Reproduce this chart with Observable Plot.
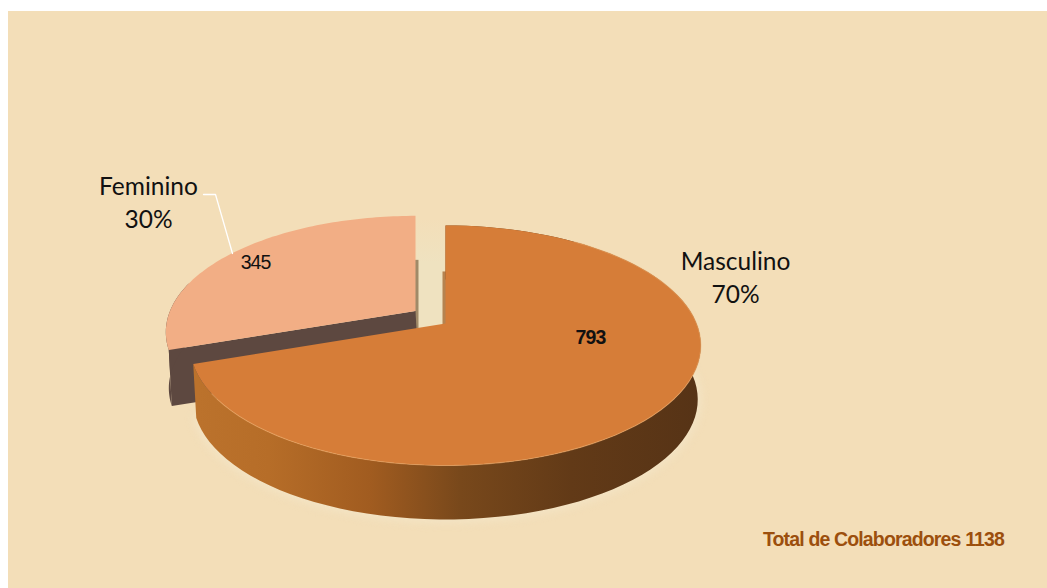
<!DOCTYPE html>
<html>
<head>
<meta charset="utf-8">
<style>
html,body{margin:0;padding:0;background:#fff}svg{display:block}
.tight-total text{letter-spacing:-0.85px}
.tight-value text{letter-spacing:-1px}
.tight-bold text{letter-spacing:-0.8px}
</style>
<script src="https://cdn.jsdelivr.net/npm/d3@7"></script>
<script src="https://cdn.jsdelivr.net/npm/@observablehq/plot@0.6"></script>
</head>
<body>
<script>
const categories = ["Masculino", "Feminino"];
const counts = [793, 345];
const percentLabels = ["70%", "30%"];
const totalLabel = "Total de Colaboradores 1138";

const total = d3.sum(counts);
const W = 1047, H = 588;

// Perspective model of a tilted disc
const cx = 445, cy = 323, R = 251, S = 116, k = -0.183, depth = 54;
const steps = 90;
function project(t, r = 1, dv = 0) {
  const u = r * Math.sin(t), v0 = -r * Math.cos(t), v = v0 + dv;
  const d = 1 + k * v;
  return [cx + (R * u) / (1 + k * v0), cy + (S * v) / d];
}
function sliceEdge(a0, a1, dx, dv, dyShift, xf) {
  const pts = [];
  const apex = project(0, 0, dv);
  pts.push([xf(apex[0]) + dx, apex[1] + dyShift]);
  for (let i = 0; i <= steps; i++) {
    const t = a0 + ((a1 - a0) * i) / steps;
    const p = project(t, 1, dv);
    pts.push([xf(p[0]) + dx, p[1] + dyShift]);
  }
  return pts;
}

const a = (counts[0] / total) * 2 * Math.PI;
const idx = (x) => x;
const shrink = (x) => cx + (x - cx) * 0.988;
const femShrink = (x) => cx + (x - cx) * 0.978;

const expX = -30, expV = -0.093, femDepthDx = 3;

const mainTop = sliceEdge(0, a, 0, 0, 0, idx);
const mainBase = sliceEdge(0, a, 0, 0, depth, shrink);
const femTop = sliceEdge(a, 2 * Math.PI, expX, expV, -2, femShrink);
const femBase = sliceEdge(a, 2 * Math.PI, expX + femDepthDx, expV, depth, femShrink);

// Wall = band between the top outline and the base outline
function wall(topPts, basePts) {
  return [...topPts, ...basePts.slice().reverse()];
}
const mainFront = wall(mainTop.slice(1), mainBase.slice(1));
const femCut = [femTop[0], femTop[1], femBase[1], femBase[0]];
const femRim = wall(femTop.slice(1, 30), femBase.slice(1, 30));
// Cut faces seen through the gap
const femInner = [
  [femTop[0][0] - 1, femTop[91][1] + depth - 10],
  [femTop[0][0] + 3, femTop[91][1] + depth - 10],
  [femTop[0][0] + 3, femTop[0][1] + 18],
  [femTop[0][0] - 1, femTop[0][1] + 18]
];
const mainInner = [
  [mainTop[0][0] - 3, mainTop[1][1] + depth - 8],
  [mainTop[0][0] + 1, mainTop[1][1] + depth - 8],
  [mainTop[0][0] + 1, mainTop[0][1] + 2],
  [mainTop[0][0] - 3, mainTop[0][1] + 2]
];
const gapGlow = [
  [femTop[0][0] + 1, mainTop[1][1] - 8],
  [mainTop[0][0] - 1, mainTop[1][1] - 8],
  [mainTop[0][0] - 1, mainTop[0][1] + 8],
  [femTop[0][0] + 1, mainTop[0][1] + 8]
];

const soft = "blur(0.7px)";
const poly = (pts, opts) => Plot.line(pts, {x: (d) => d[0], y: (d) => d[1], strokeWidth: 0, curve: "linear", imageFilter: soft, ...opts});

const defs = () => {
  const s = d3.create("svg:defs");
  const g = s.append("linearGradient")
    .attr("id", "sideGrad").attr("gradientUnits", "userSpaceOnUse")
    .attr("x1", 198).attr("x2", 702).attr("y1", 0).attr("y2", 0);
  [[0, "#bb722c"], [0.14, "#b66d28"], [0.34, "#a15c20"], [0.52, "#78481b"], [0.74, "#623a17"], [1, "#563316"]]
    .forEach(([o, c]) => g.append("stop").attr("offset", o).attr("stop-color", c));
  const g2 = s.append("linearGradient")
    .attr("id", "gapGrad").attr("gradientUnits", "userSpaceOnUse")
    .attr("x1", 0).attr("x2", 0).attr("y1", 218).attr("y2", 262);
  g2.append("stop").attr("offset", 0).attr("stop-color", "#efe2c0").attr("stop-opacity", 0);
  g2.append("stop").attr("offset", 1).attr("stop-color", "#efe2c0").attr("stop-opacity", 1);
  return s.node();
};

const plot = Plot.plot({
  width: W, height: H,
  margin: 0,
  x: {domain: [0, W], range: [0, W], axis: null},
  y: {domain: [0, H], range: [0, H], axis: null},
  style: {background: "transparent", overflow: "visible"},
  marks: [
    defs,
    Plot.rect([0], {x1: () => 8, x2: () => W, y1: () => 11, y2: () => H, fill: "#f3deb8"}),
    // soft pale glow beneath the pie and inside the gap
    poly(mainBase.slice(1), {fill: "#f3e4c5", stroke: "#f3e4c5", strokeWidth: 6, imageFilter: "blur(4px)"}),
    poly(gapGlow, {fill: "url(#gapGrad)", imageFilter: "none"}),
    // Feminino slice
    poly(femInner, {fill: "#a08a68"}),
    poly(femCut, {fill: "#5d4840"}),
    poly(femRim, {fill: "#5d4840"}),
    poly(femTop, {fill: "#f2ae85"}),
    // Masculino slice
    poly(mainInner, {fill: "#b58350"}),
    poly(mainFront, {fill: "url(#sideGrad)"}),
    poly(mainTop, {fill: "#d67d38"}),
    // Light rim along the edge of the top face
    poly(mainTop.slice(1).filter((d, i) => i > 12 && i < 86), {stroke: "#eda866", strokeWidth: 1.1, strokeOpacity: 0.55, fill: "none", imageFilter: "blur(0.5px)"}),
    // Leader line
    Plot.line([[203, 194], [215, 194], [232, 253]], {x: (d) => d[0], y: (d) => d[1], stroke: "#fff", strokeWidth: 1.3, curve: "linear"}),
    // Category labels
    Plot.text([0, 1], {
      x: (i) => [735, 148][i], y: (i) => [262, 187][i],
      text: (i) => categories[i], fill: "#111", fontSize: 24.5,
      fontFamily: "Lato, 'Open Sans', sans-serif", textAnchor: "middle", lineAnchor: "middle"
    }),
    Plot.text([0, 1], {
      x: (i) => [735, 148][i], y: (i) => [295, 220][i],
      text: (i) => percentLabels[i], fill: "#111", fontSize: 24.5,
      fontFamily: "Lato, 'Open Sans', sans-serif", textAnchor: "middle", lineAnchor: "middle"
    }),
    // Value labels
    Plot.text([counts[0]], {x: () => 590, y: () => 337, text: (d) => `${d}`, fill: "#111", fontSize: 19.5, fontWeight: "bold",
      fontFamily: "'Liberation Sans', Arial, sans-serif", textAnchor: "middle", lineAnchor: "middle", className: "tight-bold"}),
    Plot.text([counts[1]], {x: () => 255, y: () => 262, text: (d) => `${d}`, fill: "#111", fontSize: 19.5,
      fontFamily: "'Liberation Sans', Arial, sans-serif", textAnchor: "middle", lineAnchor: "middle", className: "tight-value"}),
    // Total
    Plot.text([totalLabel], {x: () => 883, y: () => 539, text: (d) => d, fill: "#9c4f0d", fontSize: 19.5, fontWeight: "bold",
      fontFamily: "'Liberation Sans', Arial, sans-serif", textAnchor: "middle", lineAnchor: "middle", className: "tight-total"})
  ]
});
document.body.appendChild(plot);
</script>
</body>
</html>
